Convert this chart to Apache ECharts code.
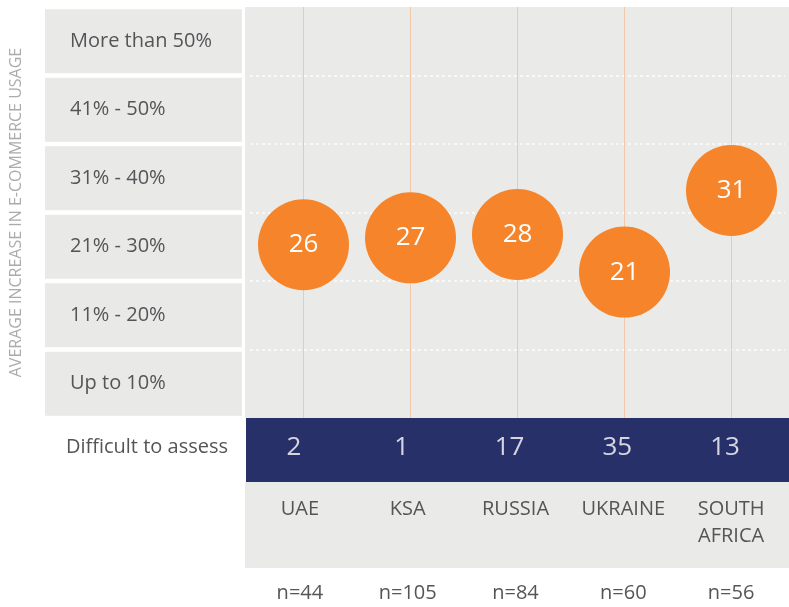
<!DOCTYPE html>
<html>
<head>
<meta charset="utf-8">
<script src="https://cdn.jsdelivr.net/npm/echarts@6/dist/echarts.min.js"></script>
<style>
html,body{margin:0;padding:0;background:#fff;}
#chart{width:789px;height:607px;}
</style>
</head>
<body>
<div id="chart"></div>
<script>
// ---- data ----
const categories = ['UAE', 'KSA', 'RUSSIA', 'UKRAINE', 'SOUTH\nAFRICA'];
const rangeLabels = ['Up to 10%', '11% - 20%', '21% - 30%', '31% - 40%', '41% - 50%', 'More than 50%'];
const avgIncrease = [26, 27, 28, 21, 31];          // value shown in each bubble
const bubbleLevel = [25.3, 26.3, 26.8, 21.3, 33.2]; // vertical position on the 0–60 band scale
const difficultToAssess = [2, 1, 17, 35, 13];
const sampleSizes = [44, 105, 84, 60, 56];
const difficultLabel = ['Difficult to assess'];
const axisTitle = 'AVERAGE INCREASE IN E-COMMERCE USAGE';

// ---- style ----
const FONT = 'Open Sans';
const GREY_BG = '#eaeae8';
const NAVY = '#283069';
const ORANGE = '#f5842a';
const TEXT = '#545557';

const chart = echarts.init(document.getElementById('chart'), null, {renderer: 'canvas'});

const option = {
  animation: false,
  backgroundColor: '#ffffff',
  textStyle: {fontFamily: FONT},
  graphic: [
    {type: 'rect', z: -10, shape: {x: 245, y: 7, width: 544, height: 411}, style: {fill: GREY_BG}},
    {type: 'rect', z: -10, shape: {x: 246, y: 418, width: 543, height: 64}, style: {fill: NAVY}},
    {type: 'rect', z: -10, shape: {x: 245, y: 482, width: 544, height: 86}, style: {fill: GREY_BG}}
  ],
  grid: [
    {left: 246, top: 7, width: 539, height: 411, show: false, containLabel: false},
    {left: 246, top: 418, width: 539, height: 64, show: false, containLabel: false}
  ],
  xAxis: [
    {type: 'category', gridIndex: 0, data: categories, boundaryGap: true,
     axisLine: {show: false}, axisTick: {show: false}, axisLabel: {show: false}, splitLine: {show: false}},
    {type: 'category', gridIndex: 1, data: categories, boundaryGap: true, position: 'bottom',
     axisLine: {show: false}, axisTick: {show: false}, splitLine: {show: false},
     axisLabel: {show: true, interval: 0, margin: 19, color: TEXT, fontSize: 20, lineHeight: 27, fontFamily: FONT}},
    {type: 'category', gridIndex: 1, data: sampleSizes.map(n => 'n=' + n), boundaryGap: true, position: 'bottom',
     axisLine: {show: false}, axisTick: {show: false}, splitLine: {show: false},
     axisLabel: {show: true, interval: 0, margin: 103, color: TEXT, fontSize: 20, lineHeight: 27, fontFamily: FONT}}
  ],
  yAxis: [
    {type: 'value', gridIndex: 0, min: 0, max: 60, interval: 10,
     axisLine: {show: false}, axisTick: {show: false}, axisLabel: {show: false},
     splitLine: {show: true, showMinLine: false, showMaxLine: false,
       lineStyle: {color: '#ffffff', width: 1.5, type: [3, 3], opacity: 0.9}}},
    {type: 'category', gridIndex: 0, data: rangeLabels, boundaryGap: true, position: 'left',
     axisLine: {show: false}, axisTick: {show: false}, splitLine: {show: false},
     name: axisTitle, nameLocation: 'middle', nameRotate: 90, nameGap: 226,
     nameTextStyle: {color: '#ababab', fontSize: 16, fontFamily: FONT},
     axisLabel: {show: true, interval: 0, margin: 205, align: 'left', verticalAlign: 'middle',
       width: 172, height: 64, lineHeight: 64, padding: [0, 0, 0, 25], overflow: 'none',
       backgroundColor: '#e9e9e8', color: TEXT, fontSize: 20, fontFamily: FONT}},
    {type: 'category', gridIndex: 1, data: difficultLabel, boundaryGap: true, position: 'left',
     axisLine: {show: false}, axisTick: {show: false}, splitLine: {show: false},
     axisLabel: {show: true, interval: 0, margin: 18, color: TEXT, fontSize: 20, fontFamily: FONT}}
  ],
  series: [
    {
      type: 'scatter', name: 'Average increase', xAxisIndex: 0, yAxisIndex: 0, z: 3,
      symbol: 'circle', symbolSize: 91,
      itemStyle: {color: ORANGE, opacity: 1},
      data: categories.map((c, i) => [i, bubbleLevel[i], avgIncrease[i]]),
      label: {show: true, position: 'inside', formatter: p => p.value[2],
        color: '#ffffff', fontSize: 26, fontFamily: FONT},
      emphasis: {disabled: true},
      markLine: {
        silent: true, z: 1, symbol: 'none', animation: false,
        label: {show: false},
        lineStyle: {color: '#f2c9a8', width: 1, type: 'solid'},
        emphasis: {disabled: true},
        data: categories.map((c, i) => ({xAxis: i}))
      }
    },
    {
      type: 'scatter', name: 'Difficult to assess', xAxisIndex: 1, yAxisIndex: 2, z: 3,
      symbolSize: 1, itemStyle: {color: 'rgba(0,0,0,0)'},
      data: categories.map((c, i) => [i, 0, difficultToAssess[i]]),
      label: {show: true, position: 'inside', offset: [-6, 0], formatter: p => p.value[2],
        color: '#ffffff', fontSize: 26, fontFamily: FONT},
      emphasis: {disabled: true}
    }
  ]
};

chart.setOption(option);
</script>
</body>
</html>
